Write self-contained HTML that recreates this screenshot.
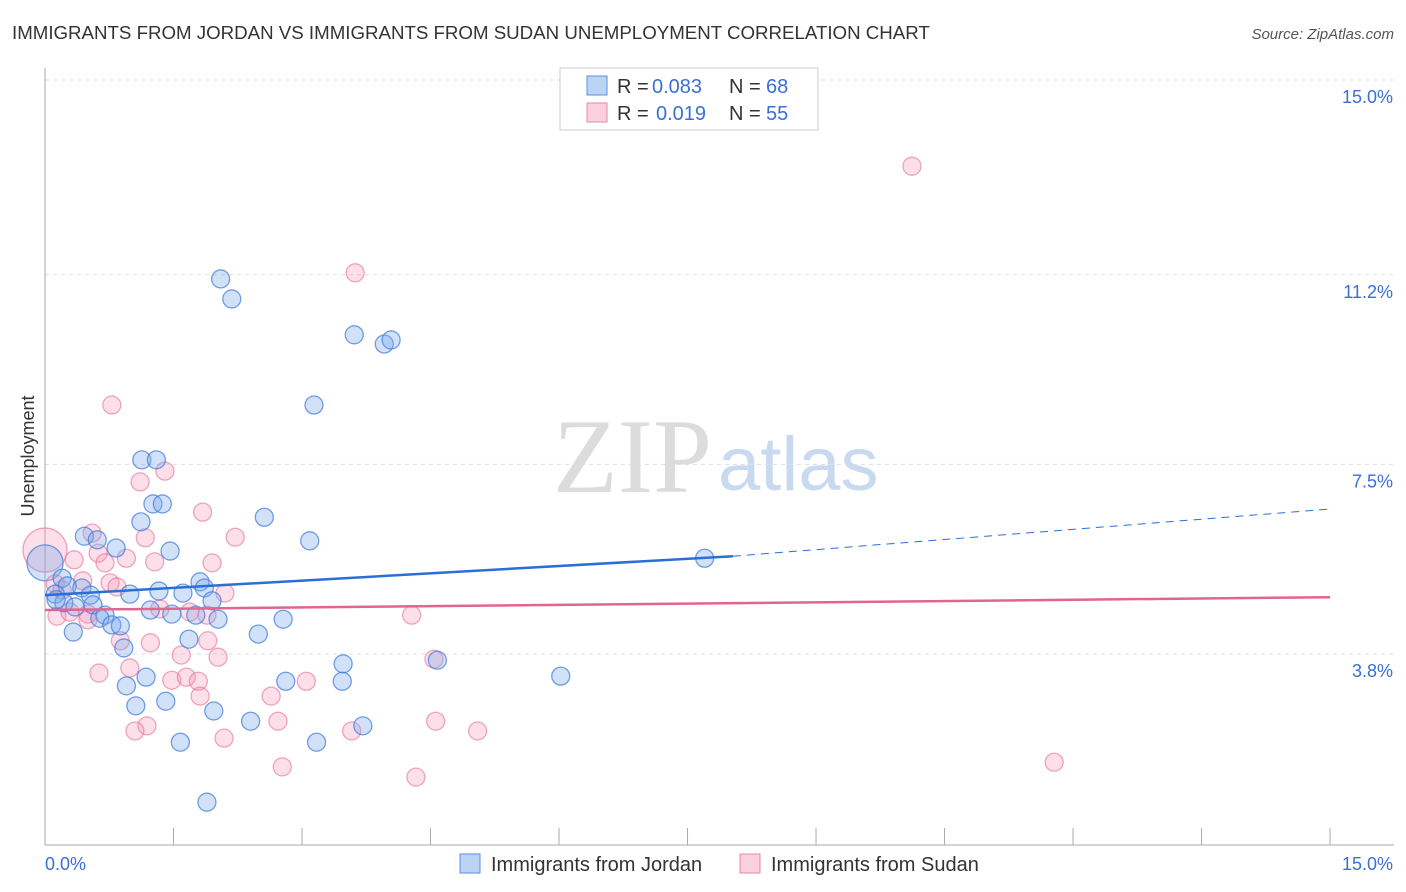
<!DOCTYPE html>
<html><head><meta charset="utf-8"><style>
body{margin:0;background:#fff;font-family:"Liberation Sans",sans-serif;}
#c{position:absolute;left:0;top:0;}
</style></head><body>
<svg id="c" width="1406" height="892"></svg>
<script>
const yTicks=[15.0,11.2,7.5,3.8];
const yTickLabels=["15.0%","11.2%","7.5%","3.8%"];
const xTicks=[0,1.5,3,4.5,6,7.5,9,10.5,12,13.5,15];
const jordanX=[2.05,2.18,3.61,3.96,4.04,3.14,1.13,1.30,1.26,1.37,1.12,2.56,0.46,0.61,0.83,1.46,3.09,7.70,0.20,0.26,0.43,0.12,0.53,0.99,1.33,1.61,1.81,1.86,0.22,0.35,0.56,1.23,1.48,1.76,1.95,2.02,0.70,0.64,0.78,0.88,0.33,2.78,2.49,1.68,0.92,3.48,4.58,6.02,1.18,2.81,3.47,0.95,1.06,1.41,1.97,2.40,3.71,1.58,3.17,1.89,0.13];
const jordanY=[11.45,11.06,10.36,10.18,10.26,8.99,7.92,7.92,7.06,7.06,6.71,6.80,6.43,6.36,6.20,6.14,6.34,6.00,5.61,5.46,5.42,5.30,5.28,5.30,5.36,5.32,5.54,5.42,5.13,5.05,5.09,4.99,4.91,4.89,5.17,4.81,4.89,4.83,4.70,4.68,4.56,4.81,4.52,4.42,4.25,3.94,4.01,3.70,3.68,3.60,3.60,3.51,3.12,3.21,3.02,2.82,2.73,2.41,2.41,1.24,5.19];
const sudanX=[10.12,3.62,0.78,1.40,1.11,1.84,2.22,0.55,1.17,0.62,0.34,0.70,1.28,0.95,1.95,0.44,0.76,0.12,0.20,0.84,2.10,1.34,1.69,1.89,0.14,0.29,0.50,4.28,1.23,1.90,0.88,1.59,2.02,4.54,0.63,0.99,1.48,1.65,1.79,3.05,2.64,1.81,2.72,1.19,1.05,3.58,2.09,4.56,5.05,2.77,4.33,11.78,0.50];
const sudanY=[13.65,11.57,8.99,7.70,7.49,6.90,6.41,6.49,6.40,6.10,5.97,5.91,5.93,6.00,5.91,5.56,5.52,5.50,5.38,5.44,5.32,5.01,4.95,4.89,4.87,4.95,4.91,4.89,4.35,4.39,4.39,4.11,4.07,4.03,3.76,3.86,3.62,3.68,3.60,3.60,3.31,3.31,2.82,2.73,2.63,2.63,2.49,2.82,2.63,1.93,1.73,2.02,4.80];
const bigJordan=[0.0,5.91];
const bigSudan=[0.0,6.16];
const jordanTrend=[0,5.28,8.03,6.04,15,6.96];
const sudanTrend=[0,4.99,15,5.24];

const NS="http://www.w3.org/2000/svg";
const svg=document.getElementById('c');
const xs=v=>45+v*85.67;
const ys=v=>97+(15-v)*51.25;
function mk(tag,attrs,parent){const e=document.createElementNS(NS,tag);for(const k in attrs)e.setAttribute(k,attrs[k]);(parent||svg).appendChild(e);return e;}

let t=mk('text',{x:12,y:39,'font-size':18.7,fill:'#333'});t.textContent="IMMIGRANTS FROM JORDAN VS IMMIGRANTS FROM SUDAN UNEMPLOYMENT CORRELATION CHART";


t=mk('text',{x:1394,y:39,'font-size':15,fill:'#555','text-anchor':'end','font-style':'italic'});t.textContent="Source: ZipAtlas.com";



t=mk('text',{x:553,y:492,'font-size':106,fill:'#dcdcdc','font-family':'Liberation Serif,serif'});t.textContent="ZIP";


t=mk('text',{x:718,y:490,'font-size':76,fill:'#c9daf0'});t.textContent="atlas";



yTicks.forEach((v,i)=>{
 const g=mk('line',{x1:45,x2:1394,y1:ys(v)-17,y2:ys(v)-17,stroke:'#ddd','stroke-dasharray':'4,4'});
 
 
 const l=mk('text',{x:1393,y:ys(v)+6,'font-size':18,fill:'#3a6fd8','text-anchor':'end'});l.textContent=yTickLabels[i];
 
 
});
let a=mk('line',{x1:45,x2:45,y1:68,y2:845,stroke:'#aaa'});


a=mk('line',{x1:45,x2:1394,y1:845,y2:845,stroke:'#aaa'});


xTicks.forEach(v=>{const k=mk('line',{x1:xs(v),x2:xs(v),y1:828,y2:845,stroke:'#aaa'});
 
 });
t=mk('text',{x:45,y:870,'font-size':18,fill:'#3a6fd8'});t.textContent="0.0%";


t=mk('text',{x:1393,y:870,'font-size':18,fill:'#3a6fd8','text-anchor':'end'});t.textContent="15.0%";


t=mk('text',{x:34,y:456,'font-size':18,fill:'#333','text-anchor':'middle',transform:'rotate(-90 34 456)'});t.textContent="Unemployment";



function dot(x,y,r,cls){
 return mk('circle',{cx:xs(x),cy:ys(y),r:r,fill:cls=='j'?'rgba(120,170,235,0.35)':'rgba(245,150,180,0.3)',stroke:cls=='j'?'rgba(60,120,220,0.7)':'rgba(230,110,150,0.6)','stroke-width':1.3});
}
let b=dot(bigSudan[0],bigSudan[1],22,'s');


b=dot(bigJordan[0],bigJordan[1],18,'j');


sudanX.forEach((x,i)=>{const c=dot(x,sudanY[i],9,'s');
 
 });
jordanX.forEach((x,i)=>{const c=dot(x,jordanY[i],9,'j');
 
 });

let tl=mk('line',{x1:xs(jordanTrend[0]),y1:ys(jordanTrend[1]),x2:xs(jordanTrend[2]),y2:ys(jordanTrend[3]),stroke:'#2a6fd6','stroke-width':2.5});


tl=mk('line',{x1:xs(jordanTrend[2]),y1:ys(jordanTrend[3]),x2:xs(jordanTrend[4]),y2:ys(jordanTrend[5]),stroke:'#2a6fd6','stroke-width':1,'stroke-dasharray':'8,6'});


tl=mk('line',{x1:xs(sudanTrend[0]),y1:ys(sudanTrend[1]),x2:xs(sudanTrend[2]),y2:ys(sudanTrend[3]),stroke:'#e06591','stroke-width':2.5});



const lg=mk('g',{});


mk('rect',{x:560,y:68,width:258,height:62,fill:'#fff',stroke:'#ccc'},lg);
mk('rect',{x:587,y:76,width:20,height:19,fill:'rgba(120,170,235,0.5)',stroke:'#5a8fdc'},lg);
mk('rect',{x:587,y:103,width:20,height:19,fill:'rgba(245,150,180,0.45)',stroke:'#e68aa8'},lg);
function lt(x,y,s,f){const e=mk('text',{x:x,y:y,'font-size':20,fill:f},lg);e.textContent=s;return e;}
lt(617,93,"R =","#333");lt(652,93,"0.083","#3a6fd8");lt(729,93,"N =","#333");lt(766,93,"68","#3a6fd8");
lt(617,120,"R =","#333");lt(656,120,"0.019","#3a6fd8");lt(729,120,"N =","#333");lt(766,120,"55","#3a6fd8");

const bl=mk('g',{});


mk('rect',{x:460,y:854,width:20,height:19,fill:'rgba(120,170,235,0.5)',stroke:'#5a8fdc'},bl);
let e=mk('text',{x:491,y:871,'font-size':20,fill:'#333'},bl);e.textContent="Immigrants from Jordan";
mk('rect',{x:740,y:854,width:20,height:19,fill:'rgba(245,150,180,0.45)',stroke:'#e68aa8'},bl);
e=mk('text',{x:771,y:871,'font-size':20,fill:'#333'},bl);e.textContent="Immigrants from Sudan";
</script>
</body></html>
